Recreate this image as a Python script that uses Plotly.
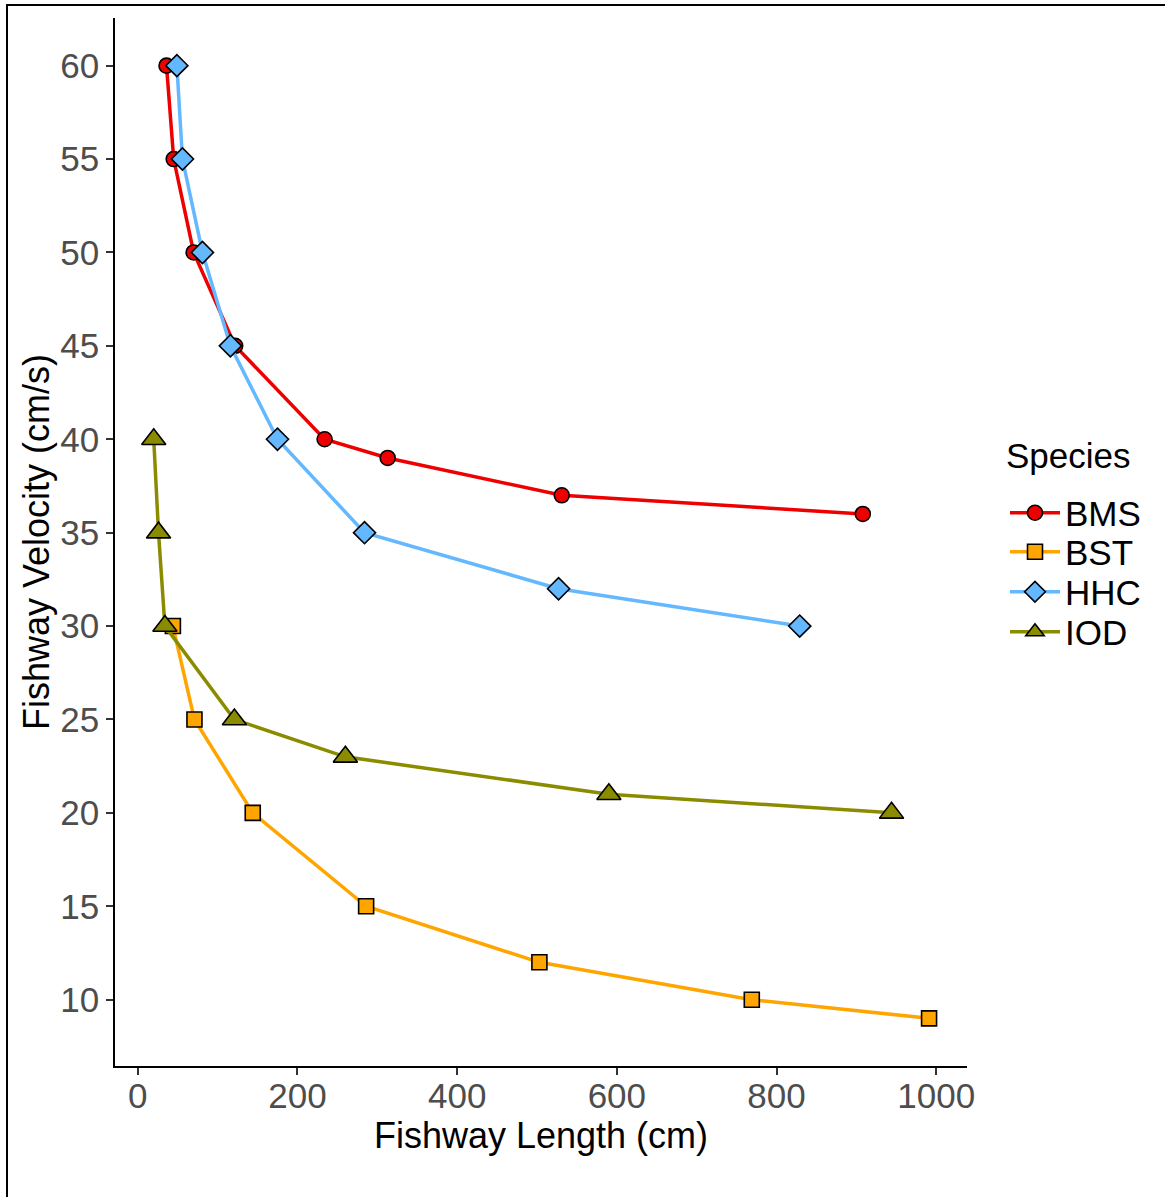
import plotly.graph_objects as go

# Fishway length (cm) vs. fishway velocity (cm/s) per species
bms_length = [36, 45, 70, 122, 234, 313, 531, 908]
bms_velocity = [60, 55, 50, 45, 40, 39, 37, 36]

bst_length = [44, 71, 144, 286, 503, 769, 991]
bst_velocity = [30, 25, 20, 15, 12, 10, 9]

hhc_length = [49, 56, 81, 116, 175, 284, 527, 829]
hhc_velocity = [60, 55, 50, 45, 40, 35, 32, 30]

iod_length = [20, 26, 34, 121, 260, 590, 944]
iod_velocity = [40, 35, 30, 25, 23, 21, 20]

x_ticks = [0, 200, 400, 600, 800, 1000]
y_ticks = [10, 15, 20, 25, 30, 35, 40, 45, 50, 55, 60]

series = [
    ("BMS", bms_length, bms_velocity, "#EE0000", "circle", 15),
    ("BST", bst_length, bst_velocity, "#FFA500", "square", 15),
    ("HHC", hhc_length, hhc_velocity, "#63B8FF", "diamond", 17),
    ("IOD", iod_length, iod_velocity, "#8B8B00", "triangle-up", 21),
]

FONT = "Liberation Sans, Arial, Helvetica, sans-serif"

# plot-area pixel geometry, used to place frame and legend in paper units
L, R, T, B = 115, 198, 18, 131
W, H = 1165, 1197
pw, ph = W - L - R, H - T - B


def px_x(p):
    return (p - L) / pw


def px_y(p):
    return (H - B - p) / ph


legend_rows = [513, 552, 592, 632]
legend_ids = ["legend", "legend2", "legend3", "legend4"]

fig = go.Figure()
for (name, xs, ys, color, symbol, size), lid in zip(series, legend_ids):
    fig.add_trace(go.Scatter(
        x=xs, y=ys, name=name, mode="lines+markers", legend=lid,
        line=dict(color=color, width=3.5),
        marker=dict(symbol=symbol, size=size, color=color,
                    line=dict(color="black", width=1.6)),
    ))

frame = dict(color="black", width=2)
fig.add_shape(type="line", xref="paper", yref="paper",
              x0=px_x(7), x1=px_x(7), y0=px_y(1205), y1=px_y(5), line=frame)
fig.add_shape(type="line", xref="paper", yref="paper",
              x0=px_x(6), x1=px_x(1175), y0=px_y(5), y1=px_y(5), line=frame)

fig.add_annotation(text="Species", xref="paper", yref="paper",
                   x=px_x(1004), y=px_y(455), xanchor="left", yanchor="middle",
                   showarrow=False, font=dict(size=35, color="black"))

legend_layout = {}
for lid, row in zip(legend_ids, legend_rows):
    legend_layout[lid] = dict(
        font=dict(size=35, color="black"),
        x=px_x(1005), xanchor="left",
        y=px_y(row), yanchor="middle",
        itemwidth=50,
        bgcolor="rgba(0,0,0,0)",
    )

fig.update_layout(
    width=W, height=H,
    margin=dict(l=L, r=R, t=T, b=B, pad=0),
    paper_bgcolor="white", plot_bgcolor="white",
    font=dict(family=FONT, size=35, color="black"),
    showlegend=True,
    xaxis=dict(
        range=[-28.5, 1038.5], tickvals=x_ticks, ticktext=[str(v) for v in x_ticks],
        showgrid=False, zeroline=False,
        showline=True, linecolor="black", linewidth=1.5,
        ticks="outside", ticklen=7, tickwidth=1.5, tickcolor="#333333",
        ticklabelstandoff=-9,
        tickfont=dict(size=35, color="#4D4D4D"),
        title=dict(text="Fishway Length (cm)", font=dict(size=36, color="black"), standoff=6),
    ),
    yaxis=dict(
        range=[6.45, 62.55], tickvals=y_ticks, ticktext=[str(v) for v in y_ticks],
        showgrid=False, zeroline=False,
        showline=True, linecolor="black", linewidth=1.5,
        ticks="outside", ticklen=7, tickwidth=1.5, tickcolor="#333333",
        tickfont=dict(size=35, color="#4D4D4D"),
        title=dict(text="Fishway Velocity (cm/s)", font=dict(size=36, color="black"), standoff=0),
    ),
    **legend_layout,
)

fig.write_html("out.html")
